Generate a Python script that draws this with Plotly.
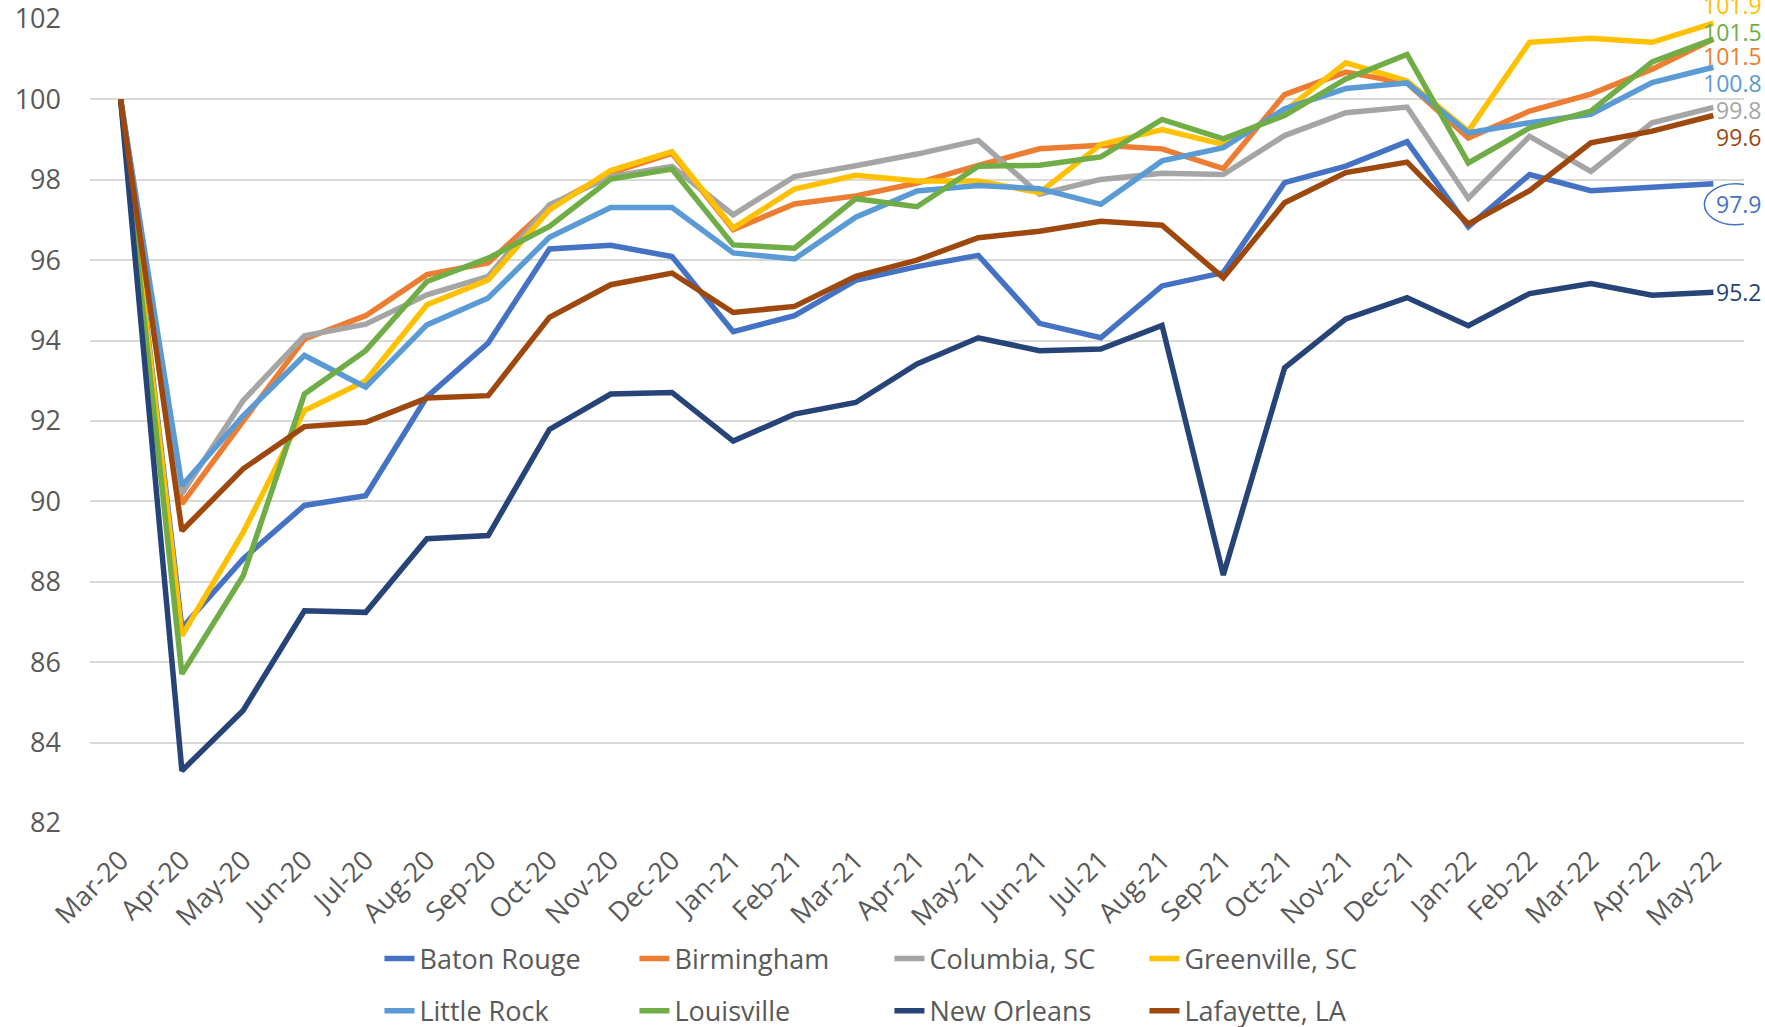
import plotly.graph_objects as go

months = ["Mar-20","Apr-20","May-20","Jun-20","Jul-20","Aug-20","Sep-20","Oct-20","Nov-20","Dec-20",
          "Jan-21","Feb-21","Mar-21","Apr-21","May-21","Jun-21","Jul-21","Aug-21","Sep-21","Oct-21",
          "Nov-21","Dec-21","Jan-22","Feb-22","Mar-22","Apr-22","May-22"]

baton_rouge = [100, 86.85, 88.57, 89.90, 90.14, 92.6, 93.94, 96.28, 96.37, 96.09, 94.22, 94.62, 95.5, 95.84,
               96.12, 94.43, 94.07, 95.36, 95.69, 97.93, 98.34, 98.95, 96.83, 98.13, 97.73, 97.81, 97.9]
birmingham = [100, 89.94, 92.0, 94.04, 94.62, 95.64, 95.93, 97.34, 98.17, 98.66, 96.76, 97.40, 97.60, 97.92,
              98.36, 98.77, 98.86, 98.77, 98.28, 100.12, 100.68, 100.4, 99.04, 99.71, 100.13, 100.75, 101.5]
columbia = [100, 90.19, 92.51, 94.12, 94.41, 95.14, 95.6, 97.38, 98.08, 98.33, 97.13, 98.08, 98.35, 98.64,
            98.98, 97.64, 98.01, 98.16, 98.13, 99.10, 99.67, 99.81, 97.54, 99.08, 98.21, 99.42, 99.8]
greenville = [100, 86.66, 89.23, 92.26, 93.0, 94.89, 95.51, 97.25, 98.23, 98.70, 96.80, 97.77, 98.11, 97.97,
              97.97, 97.68, 98.88, 99.25, 98.88, 99.71, 100.91, 100.46, 99.21, 101.42, 101.52, 101.42, 101.9]
little_rock = [100, 90.39, 92.13, 93.63, 92.84, 94.39, 95.06, 96.57, 97.31, 97.31, 96.18, 96.03, 97.07, 97.72,
               97.86, 97.78, 97.39, 98.47, 98.80, 99.77, 100.27, 100.41, 99.17, 99.42, 99.63, 100.42, 100.8]
louisville = [100, 85.71, 88.15, 92.67, 93.75, 95.47, 96.05, 96.84, 98.02, 98.27, 96.38, 96.30, 97.53, 97.33,
              98.34, 98.36, 98.57, 99.50, 99.02, 99.60, 100.51, 101.12, 98.42, 99.29, 99.71, 100.93, 101.5]
new_orleans = [100, 83.30, 84.80, 87.28, 87.24, 89.07, 89.15, 91.79, 92.67, 92.71, 91.5, 92.17, 92.46, 93.42,
               94.07, 93.75, 93.79, 94.38, 88.17, 93.32, 94.54, 95.07, 94.37, 95.17, 95.42, 95.13, 95.2]
lafayette = [100, 89.27, 90.81, 91.86, 91.97, 92.57, 92.63, 94.58, 95.39, 95.68, 94.70, 94.85, 95.60, 96.0,
             96.56, 96.72, 96.97, 96.87, 95.56, 97.43, 98.18, 98.44, 96.9, 97.73, 98.92, 99.21, 99.6]

series_names = ["Baton Rouge", "Birmingham", "Columbia, SC", "Greenville, SC",
                "Little Rock", "Louisville", "New Orleans", "Lafayette, LA"]
series_values = [baton_rouge, birmingham, columbia, greenville, little_rock, louisville, new_orleans, lafayette]
colors = ["#4472C4", "#ED7D31", "#A5A5A5", "#FFC000", "#5B9BD5", "#70AD47", "#264478", "#9E480E"]
# vertical nudges (px) for end labels, to avoid overlap (as in the original)
label_yshift = [-20, -17, -3, 18, -16, 7, 0, -22]

FONT = "Open Sans"
TXT = "#595959"

fig = go.Figure()
for i, (name, vals, col) in enumerate(zip(series_names, series_values, colors)):
    fig.add_trace(go.Scatter(
        x=months, y=vals, name=name, mode="lines",
        line=dict(color=col, width=5.5),
        legend="legend" if i < 4 else "legend2",
    ))
    fig.add_annotation(
        x=months[-1], y=vals[-1], xref="x", yref="y",
        text=f"{vals[-1]:.1f}", showarrow=False,
        xanchor="right", yanchor="middle", xshift=51, yshift=label_yshift[i],
        font=dict(family=FONT, size=23, color=col),
    )

# ellipse around the Baton Rouge end label
fig.add_shape(
    type="circle", xref="x", yref="y",
    xsizemode="pixel", ysizemode="pixel",
    xanchor=months[-1], yanchor=baton_rouge[-1],
    x0=-9, x1=53, y0=-41, y1=0,
    line=dict(color="#4472C4", width=1.5),
)

fig.update_layout(
    width=1765, height=1027,
    margin=dict(l=90, r=21, t=19, b=204, autoexpand=False),
    paper_bgcolor="white", plot_bgcolor="white",
    font=dict(family=FONT, size=27, color=TXT),
    showlegend=True,
    legend=dict(orientation="h", x=0.175, xanchor="left", y=-0.169, yanchor="middle",
                entrywidth=210, entrywidthmode="pixels", font=dict(size=27, color=TXT),
                bgcolor="rgba(0,0,0,0)"),
    legend2=dict(orientation="h", x=0.175, xanchor="left", y=-0.234, yanchor="middle",
                 entrywidth=210, entrywidthmode="pixels", font=dict(size=27, color=TXT),
                 bgcolor="rgba(0,0,0,0)"),
)
fig.update_xaxes(
    type="category", range=[-0.5, len(months) - 0.5], automargin=False,
    tickangle=-45, showgrid=False, showline=False, ticks="",
    tickfont=dict(family=FONT, size=27, color=TXT), ticklabelstandoff=15,
    ticklabeloverflow="allow",
)
fig.update_yaxes(
    range=[82, 102], tickmode="array", tickvals=[82, 84, 86, 88, 90, 92, 94, 96, 98, 100, 102],
    automargin=False, showgrid=True, gridcolor="#D9D9D9", gridwidth=1.5,
    zeroline=False, showline=False, ticks="",
    tickfont=dict(family=FONT, size=27, color=TXT), ticklabelstandoff=28,
    ticklabeloverflow="allow",
)

fig.write_html("out.html", config={"displayModeBar": False},
               post_script="document.body.style.margin='0px';")
